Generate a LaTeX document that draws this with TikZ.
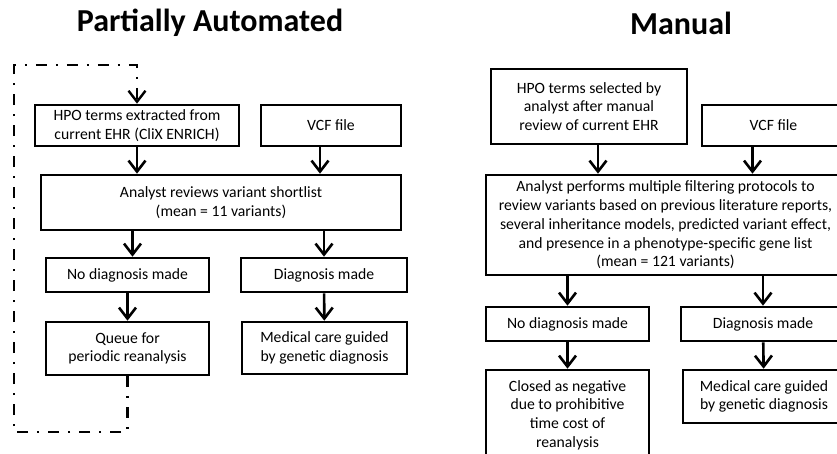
\documentclass[tikz,border=0pt]{standalone}
\usepackage{fontspec}
\setmainfont{Carlito}
\usetikzlibrary{arrows.meta}
\tikzset{>={Straight Barb[length=11pt,width=17pt]}}

\tikzset{
  box/.style={draw, line width=2.6pt, align=center, inner sep=1pt,
    font=\fontsize{15.7}{18.75}\selectfont},
  flow/.style={->, line width=2.6pt},
  loopback/.style={->, line width=2.4pt, dash pattern=on 11pt off 9pt on 2pt off 9pt},
  paneltitle/.style={font=\fontsize{32}{37}\selectfont\bfseries}
}

\begin{document}
\begin{tikzpicture}[x=1pt,y=-1pt]

% Frame
\useasboundingbox (0,0) rectangle (837,454);
\clip (0,0) rectangle (837,454);

% Titles
\node[paneltitle] (titleA) at (210,23) {Partially Automated};
\node[paneltitle] (titleM) at (681,23) {Manual};

% Partially automated: boxes
\node[box, minimum width=204pt, minimum height=41pt] (hpoA) at (137,125.5)
  {HPO terms extracted from\\current EHR (CliX ENRICH)};
\node[box, minimum width=140pt, minimum height=41pt] (vcfA) at (331,125.5) {VCF file};
\node[box, minimum width=360pt, minimum height=55pt] (revA) at (221,202.5)
  {Analyst reviews variant shortlist\\(mean = 11 variants)};
\node[box, minimum width=163pt, minimum height=34pt] (nodxA) at (127.5,275) {No diagnosis made};
\node[box, minimum width=166pt, minimum height=34pt] (dxA) at (324,275) {Diagnosis made};
\node[box, minimum width=163pt, minimum height=53pt] (queueA) at (127.5,348.5)
  {Queue for\\periodic reanalysis};
\node[box, minimum width=165pt, minimum height=52pt] (careA) at (324.5,348)
  {Medical care guided\\by genetic diagnosis};

% Partially automated: arrows
\draw[flow] (hpoA) -- (hpoA |- revA.north);
\draw[flow] ([xshift=-11pt]vcfA.south) -- ([xshift=-11pt]vcfA.south |- revA.north);
\draw[flow] ([xshift=5pt]nodxA.north |- revA.south) -- ([xshift=5pt]nodxA.north);
\draw[flow] (dxA.north |- revA.south) -- (dxA.north);
\draw[flow] (nodxA) -- (queueA);
\draw[flow] (dxA) -- (careA);

% Reanalysis loop
\coordinate (loopbl) at (14,432);
\coordinate (looptl) at (14,65);
\draw[loopback] (queueA.south) -- (queueA.south |- loopbl) -- (loopbl) -- (looptl)
  -- (looptl -| hpoA.north) -- (hpoA.north);

% Manual: boxes
\node[box, minimum width=196pt, minimum height=75pt] (hpoM) at (589,106.5)
  {HPO terms selected by\\analyst after manual\\review of current EHR};
\node[box, minimum width=143pt, minimum height=41pt] (vcfM) at (773.5,125.5) {VCF file};
\node[box, minimum width=359pt, minimum height=100pt] (revM) at (665.5,225)
  {Analyst performs multiple filtering protocols to\\review variants based on previous literature reports,\\several inheritance models, predicted variant effect,\\and presence in a phenotype-specific gene list\\(mean = 121 variants)};
\node[box, minimum width=163pt, minimum height=34pt] (nodxM) at (567.5,324) {No diagnosis made};
\node[box, minimum width=164pt, minimum height=34pt] (dxM) at (763,324) {Diagnosis made};
\node[box, minimum width=163pt, minimum height=90pt] (closeM) at (567.5,415)
  {Closed as negative\\due to prohibitive\\time cost of\\reanalysis};
\node[box, minimum width=162pt, minimum height=53pt] (careM) at (764,396.5)
  {Medical care guided\\by genetic diagnosis};

% Manual: arrows
\draw[flow] ([xshift=9pt]hpoM.south) -- ([xshift=9pt]hpoM.south |- revM.north);
\draw[flow] ([xshift=-21pt]vcfM.south) -- ([xshift=-21pt]vcfM.south |- revM.north);
\draw[flow] (nodxM.north |- revM.south) -- (nodxM.north);
\draw[flow] (dxM.north |- revM.south) -- (dxM.north);
\draw[flow] (nodxM) -- (closeM);
\draw[flow] (dxM) -- (careM);

\end{tikzpicture}
\end{document}
